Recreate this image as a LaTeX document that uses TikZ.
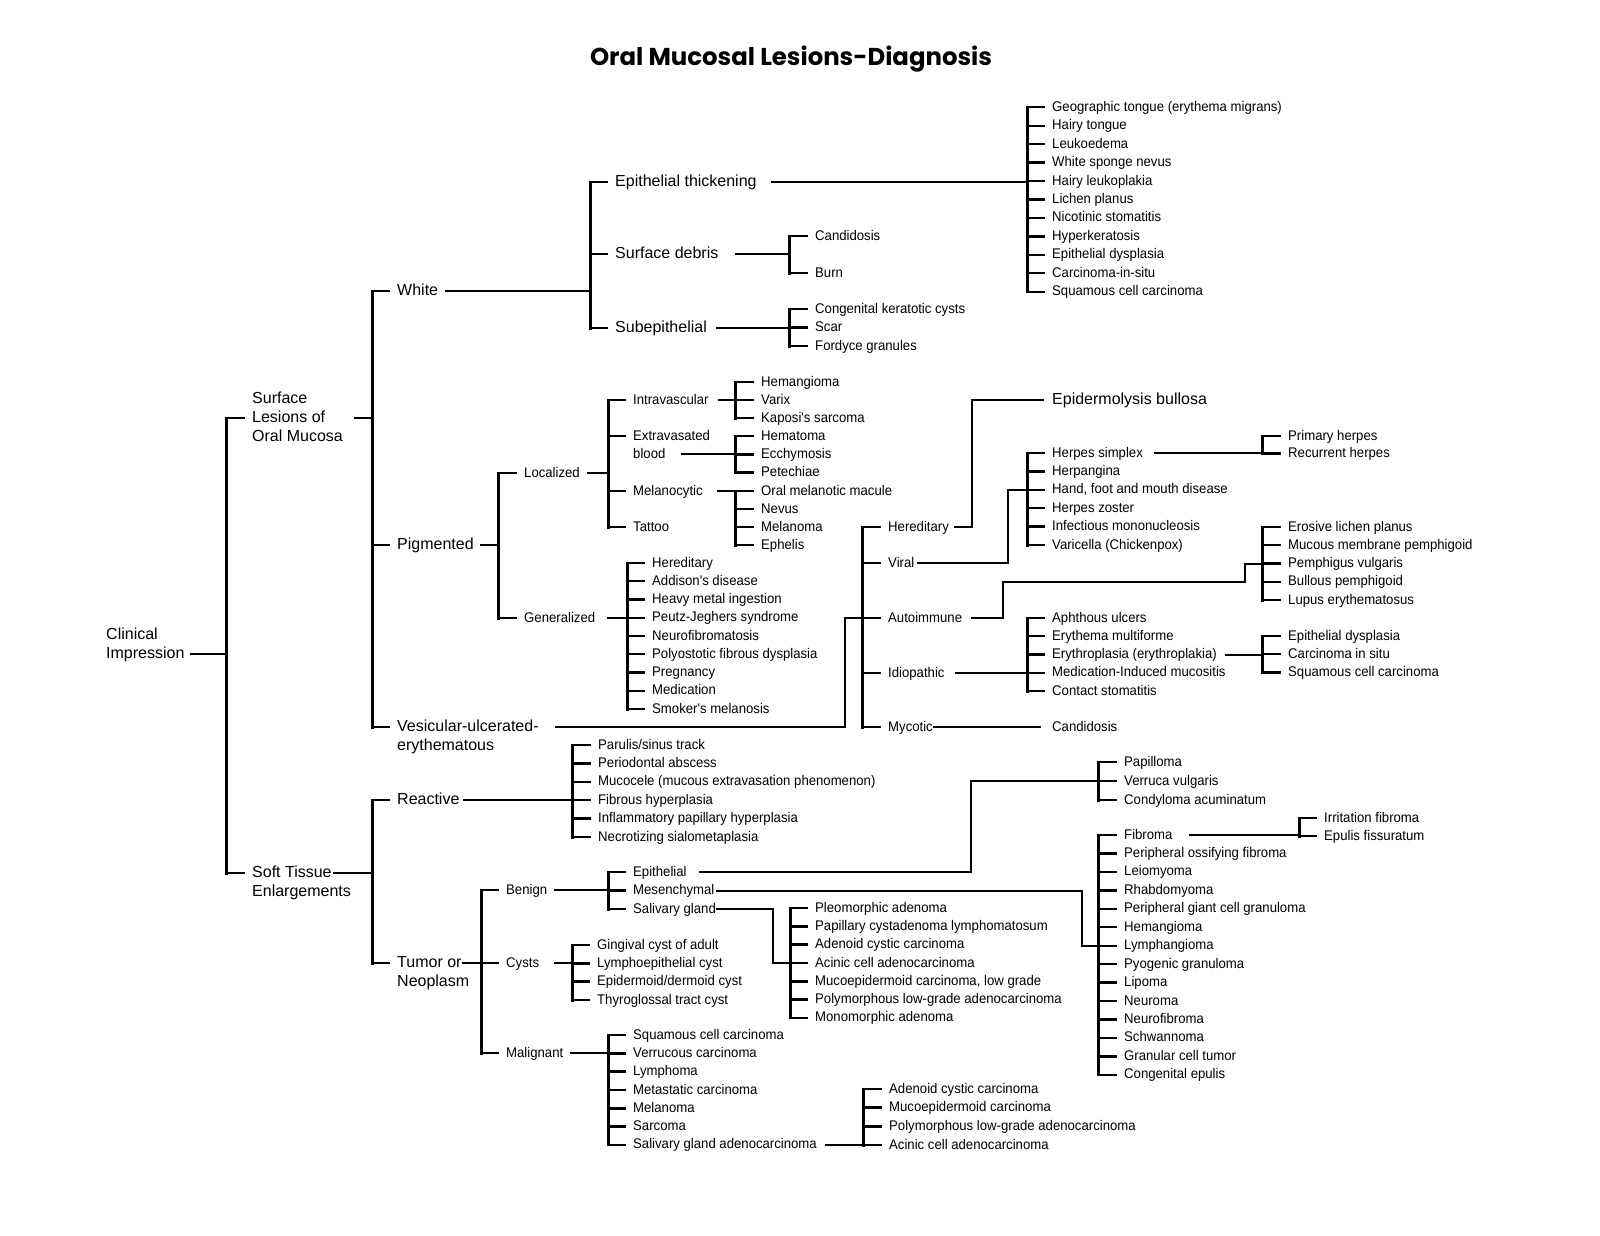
\documentclass[tikz,border=0pt]{standalone}
\usepackage{fontspec}
\usepackage{graphicx}
\setmainfont{Liberation Sans}
\newfontfamily\nfont[FakeStretch=0.94]{Liberation Sans}
\newfontfamily\tfont{Poppins}
\tikzset{
 it/.style={anchor=west, inner sep=0pt, font=\nfont\fontsize{14}{17}\selectfont, text height=8pt, text depth=0pt},
 lab/.style={anchor=west, inner sep=0pt, font=\fontsize{16}{19}\selectfont, text height=9pt, text depth=0pt},
 sp/.style={line width=3pt, line cap=rect},
 tk/.style={line width=2.4pt},
 cn/.style={line width=2pt},
}
\newcommand\tck[2]{\draw[tk] (#1,0 |- #2.west) -- ([xshift=-7pt]#2.west);}
\newcommand\spn[3]{\draw[sp] (#1,0 |- #2.west) -- (#1,0 |- #3.west);}
\newcommand\grp[7]{%
 \foreach \tx [count=\i] in {#7} {
   \node[it] (#1\i) at (#3,{#4+(\i-1)*#5}) {\tx};
   \draw[tk] (#2,0 |- #1\i.west) -- ([xshift=-7pt]#1\i.west);
 }
 \draw[sp] (#2,0 |- #11.west) -- (#2,0 |- #1#6.west);
}
\begin{document}
\begin{tikzpicture}[x=1pt,y=-1pt]
\fill[white] (0,0) rectangle (1600,1236);
\useasboundingbox (0,0) rectangle (1600,1236);

\node[inner sep=0pt] (title) at (791,59) {\resizebox{402pt}{!}{\tfont\bfseries Oral Mucosal Lesions-Diagnosis}};

% root
\node[lab] (clin1) at (106,635) {Clinical};
\node[lab] (clin2) at (106,654) {Impression};
\node[lab] (les1) at (252,399) {Surface};
\node[lab] (les2) at (252,418) {Lesions of};
\node[lab] (les3) at (252,437) {Oral Mucosa};
\node[lab] (soft1) at (252,873) {Soft Tissue};
\node[lab] (soft2) at (252,892) {Enlargements};
\draw[cn] ([xshift=5pt]clin2.east) -- (226,0 |- clin2.east);
\spn{226}{les2}{soft1}\tck{226}{les2}\tck{226}{soft1}

% surface lesions
\node[lab] (white) at (397,291) {White};
\node[lab] (pig) at (397,545) {Pigmented};
\node[lab] (ves1) at (397,727) {Vesicular-ulcerated-};
\node[lab] (ves2) at (397,746) {erythematous};
\draw[cn] (les3.east |- les2.east) ++(11pt,0) -- (372,0 |- les2.east);
\spn{372}{white}{ves1}\tck{372}{white}\tck{372}{pig}\tck{372}{ves1}

% white
\node[lab] (eth) at (615,182) {Epithelial thickening};
\node[lab] (sdb) at (615,254) {Surface debris};
\node[lab] (sube) at (615,328) {Subepithelial};
\draw[cn] ([xshift=7pt]white.east) -- (590,0 |- white.east);
\spn{590}{eth}{sube}\tck{590}{eth}\tck{590}{sdb}\tck{590}{sube}
\draw[cn] ([xshift=14pt]eth.east) -- (1027,0 |- eth.east);
\draw[cn] ([xshift=16pt]sdb.east) -- (789,0 |- sdb.east);
\draw[cn] ([xshift=9pt]sube.east) -- (789,0 |- sube.east);
\grp{eth}{1027}{1052}{107.3}{18.44}{11}{Geographic tongue (erythema migrans),Hairy tongue,Leukoedema,White sponge nevus,Hairy leukoplakia,Lichen planus,Nicotinic stomatitis,Hyperkeratosis,Epithelial dysplasia,Carcinoma-in-situ,Squamous cell carcinoma}
\grp{sdb}{789}{815}{236}{37}{2}{Candidosis,Burn}
\grp{sub}{789}{815}{309}{18.5}{3}{Congenital keratotic cysts,Scar,Fordyce granules}

% pigmented
\draw[cn] ([xshift=6pt]pig.east) -- (498,0 |- pig.east);
\grp{pig}{498}{524}{473}{145}{2}{Localized,Generalized}
\node[it] (intra) at (633,400) {Intravascular};
\node[it] (extra) at (633,436) {Extravasated};
\node[it] (blood) at (633,454) {blood};
\node[it] (melc) at (633,491) {Melanocytic};
\node[it] (tat) at (633,527) {Tattoo};
\draw[cn] ([xshift=7pt]pig1.east) -- (608,0 |- pig1.east);
\spn{608}{intra}{tat}\tck{608}{intra}\tck{608}{extra}\tck{608}{melc}\tck{608}{tat}
\draw[cn] ([xshift=9pt]intra.east) -- (735,0 |- intra.east);
\draw[cn] ([xshift=15pt]blood.east) -- (735,0 |- blood.east);
\draw[cn] ([xshift=14pt]melc.east) -- (735,0 |- melc.east);
\grp{iv}{735}{761}{382}{18}{3}{Hemangioma,Varix,Kaposi's sarcoma}
\grp{eb}{735}{761}{436}{18.3}{3}{Hematoma,Ecchymosis,Petechiae}
\grp{mel}{735}{761}{491}{18}{4}{Oral melanotic macule,Nevus,Melanoma,Ephelis}
\draw[cn] ([xshift=12pt]pig2.east) -- (627,0 |- pig2.east);
\grp{gen}{627}{652}{563}{18.25}{9}{Hereditary,Addison's disease,Heavy metal ingestion,Peutz-Jeghers syndrome,Neurofibromatosis,Polyostotic fibrous dysplasia,Pregnancy,Medication,Smoker's melanosis}

% vesicular
\node[it] (her) at (888,527) {Hereditary};
\node[it] (vira) at (888,563) {Viral};
\node[it] (auto) at (888,618) {Autoimmune};
\node[it] (idio) at (888,673) {Idiopathic};
\node[it] (myc) at (888,727) {Mycotic};
\draw[cn] ([xshift=16pt]ves1.east) -- (845,0 |- ves1.east) |- (862,0 |- auto.west);
\spn{862}{her}{myc}\tck{862}{her}\tck{862}{vira}\tck{862}{auto}\tck{862}{idio}\tck{862}{myc}
\node[lab] (epb) at (1052,400) {Epidermolysis bullosa};
\draw[cn] ([xshift=5pt]her.east) -| (972,0 |- epb.west) -- ([xshift=-8pt]epb.west);
\grp{vir}{1027}{1052}{453}{18.4}{6}{Herpes simplex,Herpangina,{Hand, foot and mouth disease},Herpes zoster,Infectious mononucleosis,Varicella (Chickenpox)}
\draw[cn] ([xshift=2pt]vira.east) -| (1008,0 |- vir3.west) -- (1027,0 |- vir3.west);
\grp{hs}{1262}{1288}{436}{17.5}{2}{Primary herpes,Recurrent herpes}
\draw[cn] ([xshift=11pt]vir1.east) -- (1262,0 |- vir1.east);
\grp{ai}{1262}{1288}{527}{18.25}{5}{Erosive lichen planus,Mucous membrane pemphigoid,Pemphigus vulgaris,Bullous pemphigoid,Lupus erythematosus}
\draw[cn] ([xshift=9pt]auto.east) -| (1003,0 |- ai4.west) -| (1245,0 |- ai3.west) -- (1262,0 |- ai3.west);
\grp{idi}{1027}{1052}{618}{18.25}{5}{Aphthous ulcers,Erythema multiforme,Erythroplasia (erythroplakia),Medication-Induced mucositis,Contact stomatitis}
\draw[cn] ([xshift=10pt]idio.east) -- (1027,0 |- idio.east);
\grp{ery}{1262}{1288}{636}{18.2}{3}{Epithelial dysplasia,Carcinoma in situ,Squamous cell carcinoma}
\draw[cn] ([xshift=8pt]idi3.east) -- (1262,0 |- idi3.east);
\node[it] (cand) at (1052,727) {Candidosis};
\draw[cn] (myc.east) -- ([xshift=-11pt]cand.west);

% soft tissue
\node[lab] (reac) at (397,800) {Reactive};
\node[lab] (tum1) at (397,963) {Tumor or};
\node[lab] (tum2) at (397,982) {Neoplasm};
\draw[cn] ([xshift=1pt]soft1.east) -- (372,0 |- soft1.east);
\spn{372}{reac}{tum1}\tck{372}{reac}\tck{372}{tum1}
\draw[cn] ([xshift=3pt]reac.east) -- (572,0 |- reac.east);
\grp{rea}{572}{598}{745}{18.4}{6}{Parulis/sinus track,Periodontal abscess,Mucocele (mucous extravasation phenomenon),Fibrous hyperplasia,Inflammatory papillary hyperplasia,Necrotizing sialometaplasia}
\node[it] (beni) at (506,890) {Benign};
\node[it] (cyst) at (506,963) {Cysts};
\node[it] (malg) at (506,1053) {Malignant};
\draw[cn] (tum1.east) -- (481,0 |- tum1.east);
\spn{481}{beni}{malg}\tck{481}{beni}\tck{481}{cyst}\tck{481}{malg}
\draw[cn] ([xshift=7pt]beni.east) -- (608,0 |- beni.east);
\grp{ben}{608}{633}{872}{18.5}{3}{Epithelial,Mesenchymal,Salivary gland}
\grp{epi}{1098}{1124}{762}{19}{3}{Papilloma,Verruca vulgaris,Condyloma acuminatum}
\draw[cn] ([xshift=12pt]ben1.east) -| (971,0 |- epi2.west) -- (1098,0 |- epi2.west);
\grp{mes}{1098}{1124}{835}{18.45}{14}{Fibroma,Peripheral ossifying fibroma,Leiomyoma,Rhabdomyoma,Peripheral giant cell granuloma,Hemangioma,Lymphangioma,Pyogenic granuloma,Lipoma,Neuroma,Neurofibroma,Schwannoma,Granular cell tumor,Congenital epulis}
\draw[cn] ([xshift=1pt]ben2.east) -| (1082,0 |- mes7.west) -- (1098,0 |- mes7.west);
\grp{fib}{1299}{1324}{818}{18}{2}{Irritation fibroma,Epulis fissuratum}
\draw[cn] ([xshift=16pt]mes1.east) -- (1299,0 |- mes1.east);
\grp{sal}{790}{815}{908}{18.33}{7}{Pleomorphic adenoma,Papillary cystadenoma lymphomatosum,Adenoid cystic carcinoma,Acinic cell adenocarcinoma,{Mucoepidermoid carcinoma, low grade},Polymorphous low-grade adenocarcinoma,Monomorphic adenoma}
\draw[cn] (ben3.east) -| (773,0 |- sal4.west) -- (790,0 |- sal4.west);
\grp{cys}{572}{597}{945}{18.33}{4}{Gingival cyst of adult,Lymphoepithelial cyst,Epidermoid/dermoid cyst,Thyroglossal tract cyst}
\draw[cn] ([xshift=15pt]cyst.east) -- (572,0 |- cyst.east);
\grp{mal}{608}{633}{1035}{18.33}{7}{Squamous cell carcinoma,Verrucous carcinoma,Lymphoma,Metastatic carcinoma,Melanoma,Sarcoma,Salivary gland adenocarcinoma}
\draw[cn] ([xshift=7pt]malg.east) -- (608,0 |- malg.east);
\grp{sga}{863}{889}{1089}{18.67}{4}{Adenoid cystic carcinoma,Mucoepidermoid carcinoma,Polymorphous low-grade adenocarcinoma,Acinic cell adenocarcinoma}
\draw[cn] ([xshift=8pt]mal7.east) -- (863,0 |- mal7.east);
\end{tikzpicture}
\end{document}
